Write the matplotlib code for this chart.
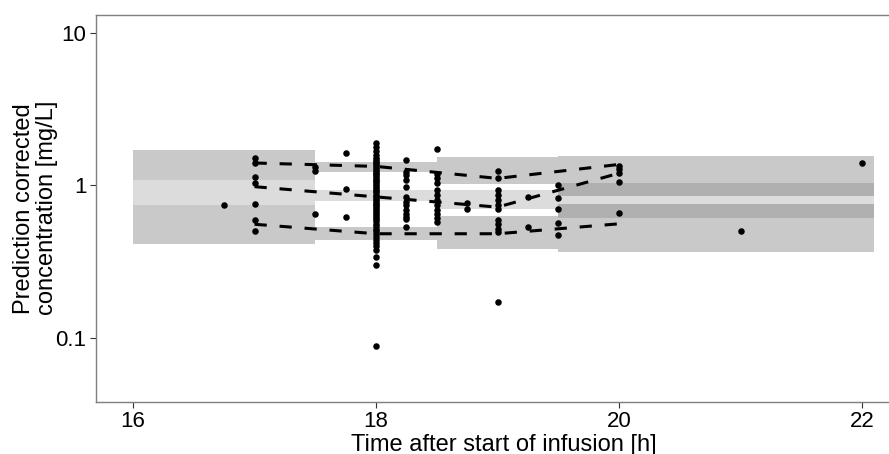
import matplotlib
matplotlib.use("Agg")
import matplotlib.pyplot as plt
from matplotlib.patches import Rectangle

plt.rcParams['font.family'] = ['Liberation Sans', 'DejaVu Sans']

# observed (prediction corrected) concentrations, by sampling time
obs_time = ([16.75] * 1 + [17.0] * 7 + [17.5] * 3 + [17.75] * 3 + [18.0] * 52
            + [18.25] * 13 + [18.5] * 12 + [18.75] * 2 + [19.0] * 12
            + [19.25] * 2 + [19.5] * 5 + [20.0] * 5 + [21.0] + [22.0])
obs_conc = [0.74,
            1.50, 1.39, 1.13, 1.03, 0.76, 0.59, 0.505,
            1.31, 1.24, 0.645,
            1.62, 0.94, 0.62,
            1.88, 1.78, 1.68, 1.58, 1.52, 1.47, 1.43, 1.39, 1.35, 1.31,
            1.27, 1.24, 1.21, 1.18, 1.15, 1.12, 1.09, 1.06, 1.03, 1.00,
            0.97, 0.95, 0.92, 0.90, 0.87, 0.85, 0.82, 0.80, 0.78, 0.76,
            0.74, 0.72, 0.70, 0.68, 0.66, 0.64, 0.62, 0.60, 0.58, 0.56,
            0.54, 0.52, 0.50, 0.48, 0.46, 0.44, 0.42, 0.40, 0.375, 0.34,
            0.30, 0.089,
            1.46, 1.22, 1.16, 1.09, 0.98, 0.84, 0.78, 0.74, 0.69, 0.65,
            0.62, 0.60, 0.53,
            1.74, 1.19, 1.11, 1.03, 0.93, 0.86, 0.80, 0.74, 0.69, 0.65,
            0.61, 0.575,
            0.77, 0.70,
            1.24, 1.12, 0.93, 0.86, 0.80, 0.74, 0.70, 0.59, 0.56, 0.52,
            0.495, 0.172,
            0.84, 0.53,
            1.00, 0.83, 0.70, 0.567, 0.47,
            1.33, 1.27, 1.20, 1.05, 0.66,
            0.503,
            1.39]

# observed percentiles (95th, 50th, 5th) at bin mid times
perc_time = [17.0, 18.0, 19.0, 20.0]
obs_p95 = [1.40, 1.33, 1.11, 1.37]
obs_p50 = [0.98, 0.84, 0.72, 1.20]
obs_p05 = [0.556, 0.482, 0.482, 0.56]

# simulated confidence intervals per bin
bin_lo = [16.0, 17.5, 18.5, 19.5]
bin_hi = [17.5, 18.5, 19.5, 22.1]
ci95_lo = [1.078, 1.216, 1.026, 0.852]
ci95_hi = [1.706, 1.424, 1.524, 1.547]
ci50_lo = [0.740, 0.786, 0.704, 0.615]
ci50_hi = [1.078, 0.928, 0.937, 1.041]
ci05_lo = [0.415, 0.440, 0.385, 0.367]
ci05_hi = [0.740, 0.532, 0.627, 0.760]

fig = plt.figure(figsize=(8.89, 4.54), dpi=100)
ax = fig.add_axes([0.108, 0.1154, 0.917, 0.8516])

for i in range(len(bin_lo)):
    w = bin_hi[i] - bin_lo[i]
    for lo, hi in [(ci95_lo[i], ci95_hi[i]), (ci05_lo[i], ci05_hi[i])]:
        ax.add_patch(Rectangle((bin_lo[i], lo), w, hi - lo, facecolor='black',
                               alpha=0.21, edgecolor='none', zorder=1))
    ax.add_patch(Rectangle((bin_lo[i], ci50_lo[i]), w, ci50_hi[i] - ci50_lo[i],
                           facecolor=(0.26, 0.26, 0.26), alpha=0.185,
                           edgecolor='none', zorder=2))

ax.scatter(obs_time, obs_conc, s=22, color='black', linewidths=0, zorder=3)

for p in [obs_p95, obs_p50, obs_p05]:
    ax.plot(perc_time, p, color='black', lw=2.2, dashes=(4, 4.2), zorder=4)

ax.set_yscale('log')
ax.set_xlim(15.695, 22.405)
ax.set_ylim(0.0384, 13.03)
ax.set_xticks([16, 18, 20, 22])
ax.set_yticks([0.1, 1, 10])
ax.set_yticklabels(['0.1', '1', '10'])
ax.minorticks_off()
ax.tick_params(labelsize=16, color='#333333', length=4, width=0.8,
               labelcolor='black', pad=3)

for s in ['top', 'left', 'bottom']:
    ax.spines[s].set_color('#7f7f7f')
    ax.spines[s].set_linewidth(1.0)
ax.spines['right'].set_visible(False)

ax.set_xlabel('Time after start of infusion [h]', fontsize=17, labelpad=1)
ax.set_ylabel('Prediction corrected\nconcentration [mg/L]', fontsize=17,
              labelpad=-2, linespacing=1.05)

fig.savefig('out.png', dpi=100)
